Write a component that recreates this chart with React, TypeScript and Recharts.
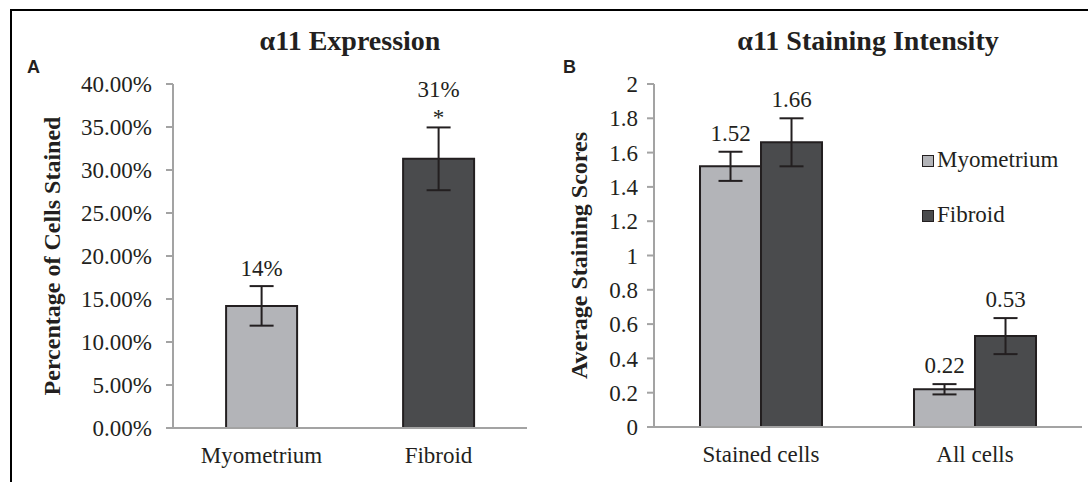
import React from 'react';
import { BarChart, Bar, XAxis, YAxis, ErrorBar, Cell, LabelList, Label } from 'recharts';

// ---------- Panel A data ----------
const expressionCategories = ['Myometrium', 'Fibroid'];
const expressionValues = [14.2, 31.3];
const expressionErrors = [2.3, 3.65];
const expressionLabels = ['14%', '31%'];
const expressionMarks = ['', '*'];
const expressionTicks = [0, 5, 10, 15, 20, 25, 30, 35, 40];
const expressionTickLabels = ['0.00%', '5.00%', '10.00%', '15.00%', '20.00%', '25.00%', '30.00%', '35.00%', '40.00%'];

// ---------- Panel B data ----------
const intensityCategories = ['Stained cells', 'All cells'];
const seriesNames = ['Myometrium', 'Fibroid'];
const myometriumValues = [1.52, 0.22];
const myometriumErrors = [0.085, 0.03];
const fibroidValues = [1.66, 0.53];
const fibroidErrors = [0.14, 0.105];
const intensityTicks = [0, 0.2, 0.4, 0.6, 0.8, 1, 1.2, 1.4, 1.6, 1.8, 2];
const intensityTickLabels = ['0', '0.2', '0.4', '0.6', '0.8', '1', '1.2', '1.4', '1.6', '1.8', '2'];

const LIGHT = '#b3b4b8';
const DARK = '#4a4b4d';
const INK = '#231f20';
const AXIS = '#a3a3a3';
const SERIF = '"Liberation Serif", "Times New Roman", serif';
const SANS = '"Liberation Sans", Arial, sans-serif';
const seriesColors = [LIGHT, DARK];

const expressionData = expressionCategories.map((name, i) => ({
  name,
  value: expressionValues[i],
  err: expressionErrors[i],
}));

const intensityData = intensityCategories.map((name, i) => ({
  name,
  myometrium: myometriumValues[i],
  myometriumErr: myometriumErrors[i],
  fibroid: fibroidValues[i],
  fibroidErr: fibroidErrors[i],
}));

const textStyle: React.CSSProperties = { fontFamily: SERIF, fontSize: 23, fill: INK };

const getBox = (props: any) => {
  const vb = props.viewBox && props.viewBox.width != null ? props.viewBox : props;
  return { x: Number(vb.x), y: Number(vb.y), width: Number(vb.width), height: Number(vb.height) };
};

const ExpressionLabel = (props: any) => {
  const { index } = props;
  const { x, y, width, height } = getBox(props);
  const v = expressionValues[index];
  const err = expressionErrors[index];
  const errTop = y - (err * height) / v;
  const cx = x + width / 2;
  const mark = expressionMarks[index];
  return (
    <g>
      <text x={cx} y={mark ? errTop - 30 : errTop - 10} textAnchor="middle" style={textStyle}>
        {expressionLabels[index]}
      </text>
      {mark ? (
        <text x={cx} y={errTop - 2} textAnchor="middle" style={textStyle}>
          {mark}
        </text>
      ) : null}
    </g>
  );
};

const makeIntensityLabel = (values: number[], errors: number[]) => (props: any) => {
  const { index } = props;
  const { x, y, width, height } = getBox(props);
  const v = values[index];
  const err = errors[index];
  const errTop = y - (err * height) / v;
  return (
    <text x={x + width / 2} y={errTop - 11} textAnchor="middle" style={textStyle}>
      {v.toFixed(2)}
    </text>
  );
};

const MyometriumLabel = makeIntensityLabel(myometriumValues, myometriumErrors);
const FibroidLabel = makeIntensityLabel(fibroidValues, fibroidErrors);

const App = () => {
  return (
    <div style={{ position: 'absolute', left: 0, top: 0, width: 1088, height: 482, background: '#fff', overflow: 'hidden' }}>
      {/* frame lines */}
      <div style={{ position: 'absolute', left: 10, top: 9, width: 1078, height: 2, background: '#000' }} />
      <div style={{ position: 'absolute', left: 10, top: 9, width: 2, height: 473, background: '#000' }} />

      {/* Titles and panel letters */}
      <div style={{ position: 'absolute', left: 150, top: 27, width: 400, textAlign: 'center', fontFamily: SERIF, fontWeight: 'bold', fontSize: 28, lineHeight: '28px', color: INK }}>
        α11 Expression
      </div>
      <div style={{ position: 'absolute', left: 668, top: 27, width: 400, textAlign: 'center', fontFamily: SERIF, fontWeight: 'bold', fontSize: 28, lineHeight: '28px', color: INK }}>
        α11 Staining Intensity
      </div>
      <div style={{ position: 'absolute', left: 27, top: 58, fontFamily: SANS, fontWeight: 'bold', fontSize: 18, lineHeight: '18px', color: INK }}>A</div>
      <div style={{ position: 'absolute', left: 563, top: 58, fontFamily: SANS, fontWeight: 'bold', fontSize: 18, lineHeight: '18px', color: INK }}>B</div>

      {/* Panel A */}
      <div style={{ position: 'absolute', left: 0, top: 0 }}>
        <BarChart
          width={544}
          height={482}
          data={expressionData}
          margin={{ top: 84, right: 17, bottom: 24, left: 20 }}
          barCategoryGap="30%"
        >
          <XAxis
            dataKey="name"
            height={30}
            tickLine={false}
            tickSize={0}
            tickMargin={19}
            axisLine={{ stroke: AXIS, strokeWidth: 2 }}
            tick={{ fontFamily: SERIF, fontSize: 23, fill: INK }}
          />
          <YAxis
            width={153}
            domain={[0, 40]}
            ticks={expressionTicks}
            interval={0}
            tickSize={7}
            tickMargin={14}
            tickLine={{ stroke: AXIS, strokeWidth: 2 }}
            axisLine={{ stroke: AXIS, strokeWidth: 2 }}
            tick={{ fontFamily: SERIF, fontSize: 23, fill: INK }}
            tickFormatter={(v: number) => expressionTickLabels[expressionTicks.indexOf(v)]}
          >
            <Label
              value="Percentage of Cells Stained"
              angle={-90}
              position="insideLeft"
              offset={31}
              style={{ textAnchor: 'middle', fontFamily: SERIF, fontWeight: 'bold', fontSize: 24, fill: INK }}
            />
          </YAxis>
          <Bar dataKey="value" stroke={INK} strokeWidth={2} isAnimationActive={false}>
            {expressionData.map((d, i) => (
              <Cell key={d.name} fill={i === 0 ? LIGHT : DARK} />
            ))}
            <ErrorBar dataKey="err" width={12} stroke={INK} strokeWidth={2} />
            <LabelList dataKey="value" content={ExpressionLabel} />
          </Bar>
        </BarChart>
      </div>

      {/* Panel B */}
      <div style={{ position: 'absolute', left: 544, top: 0 }}>
        <BarChart
          width={544}
          height={482}
          data={intensityData}
          margin={{ top: 84, right: 6, bottom: 25, left: 10 }}
          barCategoryGap="21.5%"
          barGap={0}
        >
          <XAxis
            dataKey="name"
            height={30}
            tickLine={false}
            tickSize={0}
            tickMargin={19}
            axisLine={{ stroke: AXIS, strokeWidth: 2 }}
            tick={{ fontFamily: SERIF, fontSize: 23, fill: INK }}
          />
          <YAxis
            width={100}
            domain={[0, 2]}
            ticks={intensityTicks}
            interval={0}
            tickSize={7}
            tickMargin={9}
            tickLine={{ stroke: AXIS, strokeWidth: 2 }}
            axisLine={{ stroke: AXIS, strokeWidth: 2 }}
            tick={{ fontFamily: SERIF, fontSize: 23, fill: INK }}
            tickFormatter={(v: number) => intensityTickLabels[intensityTicks.indexOf(v)]}
          >
            <Label
              value="Average Staining Scores"
              angle={-90}
              position="insideLeft"
              offset={24}
              style={{ textAnchor: 'middle', fontFamily: SERIF, fontWeight: 'bold', fontSize: 24, fill: INK }}
            />
          </YAxis>
          <Bar dataKey="myometrium" name={seriesNames[0]} fill={LIGHT} stroke={INK} strokeWidth={2} isAnimationActive={false}>
            <ErrorBar dataKey="myometriumErr" width={12} stroke={INK} strokeWidth={2} />
            <LabelList dataKey="myometrium" content={MyometriumLabel} />
          </Bar>
          <Bar dataKey="fibroid" name={seriesNames[1]} fill={DARK} stroke={INK} strokeWidth={2} isAnimationActive={false}>
            <ErrorBar dataKey="fibroidErr" width={12} stroke={INK} strokeWidth={2} />
            <LabelList dataKey="fibroid" content={FibroidLabel} />
          </Bar>
        </BarChart>
      </div>

      {/* Legend for panel B */}
      <div style={{ position: 'absolute', left: 922, top: 148 }}>
        {seriesNames.map((name, i) => (
          <div
            key={name}
            style={{
              display: 'flex',
              alignItems: 'center',
              height: 23,
              marginBottom: 32,
              fontFamily: SERIF,
              fontSize: 23,
              lineHeight: '23px',
              color: INK,
              whiteSpace: 'nowrap',
            }}
          >
            <span
              style={{
                display: 'inline-block',
                width: 10,
                height: 10,
                border: `1.5px solid ${INK}`,
                background: seriesColors[i],
                marginRight: 3,
                marginTop: 2,
              }}
            />
            <span>{name}</span>
          </div>
        ))}
      </div>
    </div>
  );
};

export default App;
